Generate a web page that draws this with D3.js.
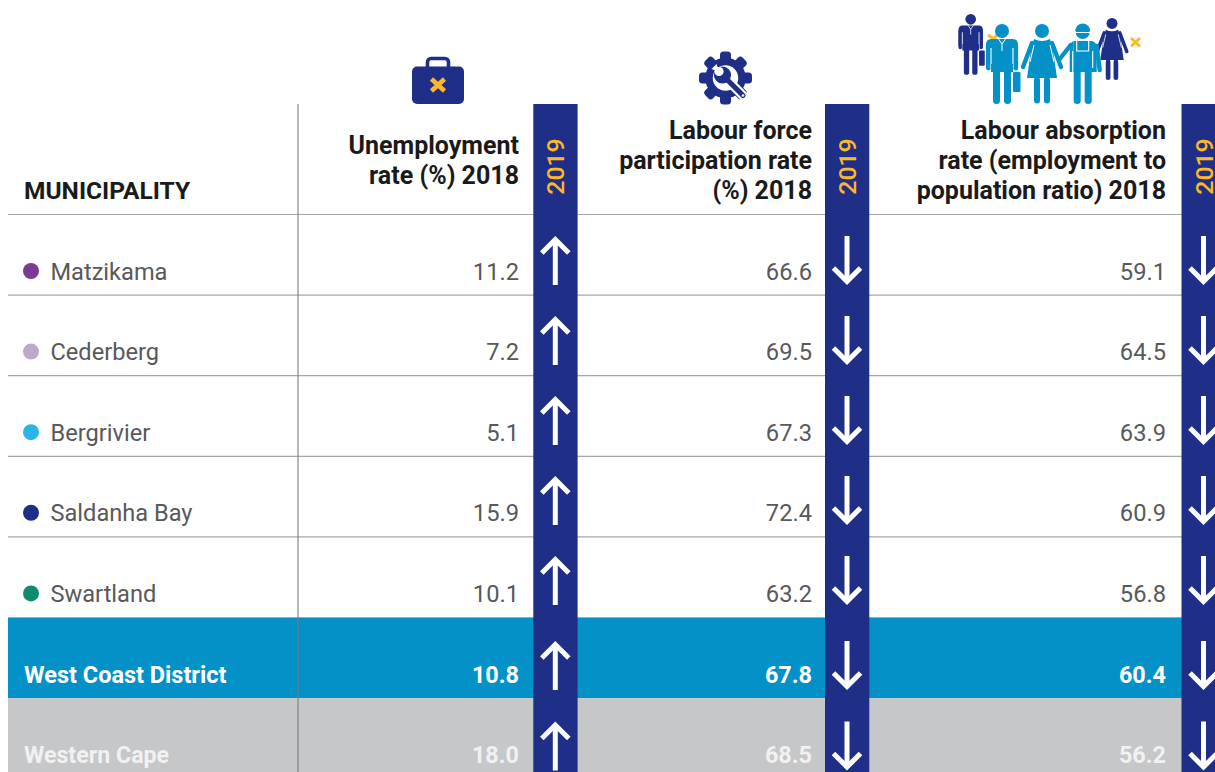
<!DOCTYPE html>
<html>
<head>
<meta charset="utf-8">
<script src="https://cdn.jsdelivr.net/npm/d3@7/dist/d3.min.js"></script>
<style>
html,body{margin:0;padding:0;background:#fff;overflow:hidden}
svg{display:block}
text{font-family:Roboto,sans-serif}
</style>
</head>
<body>
<div id="chart"></div>
<script>
// Labour market indicators by municipality
const municipalities = ["Matzikama","Cederberg","Bergrivier","Saldanha Bay","Swartland","West Coast District","Western Cape"];
const dotColours = ["#7b3b92","#bfa8c9","#2cb5e3","#1f2f87","#0f8a6d",null,null];
const unemployment = [11.2,7.2,5.1,15.9,10.1,10.8,18.0];
const participation = [66.6,69.5,67.3,72.4,63.2,67.8,68.5];
const absorption = [59.1,64.5,63.9,60.9,56.8,60.4,56.2];
const trendUnemployment = ["up","up","up","up","up","up","up"];
const trendParticipation = ["down","down","down","down","down","down","down"];
const trendAbsorption = ["down","down","down","down","down","down","down"];
const headUnemployment = ["Unemployment","rate (%) 2018"];
const headParticipation = ["Labour force","participation rate","(%) 2018"];
const headAbsorption = ["Labour absorption","rate (employment to","population ratio) 2018"];
const columnKeys = ["unemployment","participation","absorption"];
const bandYear = "2019";

const NAVY="#1f2f87", BLUE="#0391c8", GREY="#c6c7c9", GOLD="#fdb827", RULE="#a5a7aa";
const W=1215, H=772;

const columns = [
  {key:"unemployment", values:unemployment, trend:trendUnemployment, head:headUnemployment},
  {key:"participation", values:participation, trend:trendParticipation, head:headParticipation},
  {key:"absorption", values:absorption, trend:trendAbsorption, head:headAbsorption}
];

const svg = d3.select("#chart").append("svg").attr("width",W).attr("height",H);

const y = d3.scaleBand().domain(municipalities).range([214.5,214.5+7*80.6]);
const arrowY = d3.scaleOrdinal().domain(municipalities).range([260.5,340.5,420.5,500.5,580.5,665.5,746]);
const textRight = d3.scaleOrdinal().domain(columnKeys).range([519,812,1166]);
const barLeft = d3.scaleOrdinal().domain(columnKeys).range([533.3,825,1181.5]);
const barW = 44.3;

// Highlighted summary rows
const fills = {"West Coast District":BLUE,"Western Cape":GREY};
svg.append("g").selectAll("rect").data(municipalities.filter(m=>fills[m])).join("rect")
  .attr("x",8).attr("width",W-8).attr("y",d=>y(d)).attr("height",y.bandwidth()).attr("fill",d=>fills[d]);

// Row rules
svg.append("g").selectAll("line").data(municipalities.slice(0,5).map(m=>y(m)).concat(y(municipalities[4])+y.bandwidth()))
  .join("line").attr("x1",8).attr("x2",W).attr("y1",d=>d).attr("y2",d=>d)
  .attr("stroke",RULE).attr("stroke-width",1.2);
svg.append("line").attr("x1",298).attr("x2",298).attr("y1",104).attr("y2",H)
  .attr("stroke","#7b7d80").attr("stroke-width",1.1);

// Municipality column
svg.append("text").attr("x",24).attr("y",198.5).attr("font-size",24.5).attr("font-weight",700).attr("fill","#1a1a1a").text("MUNICIPALITY");
const nameG = svg.append("g");
nameG.selectAll("circle").data(municipalities.filter((m,i)=>dotColours[i])).join("circle")
  .attr("cx",31).attr("cy",d=>y(d)+56.5).attr("r",8).attr("fill",(d,i)=>dotColours[i]);
nameG.selectAll("text").data(municipalities).join("text")
  .attr("x",(d,i)=>dotColours[i]?50.5:24).attr("y",d=>y(d)+65)
  .attr("font-size",(d,i)=>dotColours[i]?23.6:(i===5?23.5:23.2))
  .attr("font-weight",(d,i)=>dotColours[i]?400:700)
  .attr("fill",(d,i)=>dotColours[i]?"#58595b":(i===5?"#fff":"#f1f1f1"))
  .text(d=>d);

// Arrow glyphs are drawn relative to their own centre, tip included
function arrow(sel,dir){
  const s = dir==="up"?-1:1;
  sel.append("path")
    .attr("d",d3.line()([[0,-24.5*s],[0,21*s]]))
    .attr("stroke","#fff").attr("stroke-width",5).attr("fill","none");
  sel.append("path")
    .attr("d",d3.line()([[-13.5,7.5*s],[0,21*s],[13.5,7.5*s]]))
    .attr("stroke","#fff").attr("stroke-width",5).attr("fill","none").attr("stroke-miterlimit",4);
}

columns.forEach(col=>{
  const right = textRight(col.key), left = barLeft(col.key);
  // Dark band with its year label
  svg.append("rect").attr("x",left).attr("y",104).attr("width",barW).attr("height",H-104).attr("fill",NAVY);
  svg.append("text")
    .attr("transform",`translate(${left+barW/2+9},166.5) rotate(-90)`)
    .attr("text-anchor","middle").attr("font-size",24.8).attr("font-weight",500).attr("fill",GOLD).text(bandYear);

  // Column heading, bottom aligned
  const baseY = col.head.length===3?138.7:153.7;
  svg.append("g").selectAll("text").data(col.head).join("text")
    .attr("x",right).attr("y",(d,i)=>baseY+i*30).attr("text-anchor","end")
    .attr("font-size",25).attr("font-weight",700).attr("fill","#1a1a1a").text(d=>d);

  // Values
  svg.append("g").selectAll("text").data(col.values).join("text")
    .attr("x",right).attr("y",(d,i)=>y(municipalities[i])+65).attr("text-anchor","end")
    .attr("font-size",(d,i)=>i>=5?23.4:23.7).attr("font-weight",(d,i)=>i>=5?700:400)
    .attr("fill",(d,i)=>i===5?"#fff":(i===6?"#f1f1f1":"#58595b"))
    .text(d=>d.toFixed(1));

  // Trend arrows
  col.trend.forEach((dir,i)=>{
    const g = svg.append("g").attr("transform",`translate(${left+22},${arrowY(municipalities[i])})`);
    arrow(g,dir);
  });
});

// Briefcase icon
const bag = svg.append("g").attr("transform","translate(438,0)");
bag.append("rect").attr("x",-26).attr("y",66.5).attr("width",52).attr("height",37.5).attr("rx",5).attr("fill",NAVY);
bag.append("rect").attr("x",-10.5).attr("y",58.5).attr("width",21).attr("height",12).attr("rx",3.5).attr("fill","none").attr("stroke",NAVY).attr("stroke-width",3.6);
bag.append("path").attr("d","M-6.5,79 L6.5,91 M6.5,79 L-6.5,91").attr("stroke",GOLD).attr("stroke-width",4.6).attr("fill","none");

// Gear with wrench icon
const gear = svg.append("g").attr("transform","translate(725.5,78)");
d3.range(8).forEach(i=>{
  gear.append("rect").attr("x",-5.5).attr("y",-26.5).attr("width",11).attr("height",12).attr("rx",3.5)
    .attr("fill",NAVY).attr("transform",`rotate(${i*45})`);
});
gear.append("circle").attr("r",16.5).attr("fill","#fff").attr("stroke",NAVY).attr("stroke-width",7.5);
gear.append("path").attr("d","M-1,-1 L18,18").attr("stroke","#fff").attr("stroke-width",9.5).attr("stroke-linecap","round");
gear.append("path").attr("d","M-1,-1 L17.5,17.5").attr("stroke",NAVY).attr("stroke-width",5.2).attr("stroke-linecap","round");
gear.append("circle").attr("cx",-3).attr("cy",-3).attr("r",8.6).attr("fill",NAVY);
gear.append("path").attr("d","M-6,-6 L-9,-14 L-14,-9 Z").attr("fill","#fff");
gear.append("circle").attr("cx",-6.5).attr("cy",-6.5).attr("r",4.6).attr("fill","#fff");
gear.append("circle").attr("cx",17.5).attr("cy",17.5).attr("r",1.3).attr("fill","#fff");

// Figures: origin is the top of the head, units are pixels at unit scale
function figure(x,top,k,colour,draw){
  const g = svg.append("g").attr("transform",`translate(${x},${top}) scale(${k})`);
  draw(g,colour);
}
function limb(g,c,a,b,w){
  g.append("path").attr("d",d3.line()([a,b])).attr("stroke",c).attr("stroke-width",w).attr("stroke-linecap","round").attr("fill","none");
}
function man(g,c){
  g.append("circle").attr("cy",7).attr("r",7).attr("fill",c);
  g.append("path").attr("d","M-11,15 H11 Q16,15 16,21 V42 H-16 V21 Q-16,15 -11,15 Z").attr("fill",c);
  limb(g,c,[-13.7,22],[-13.7,44],4.8); limb(g,c,[13.7,22],[13.7,44],4.8);
  g.append("path").attr("d","M-11,24 V44 M11,24 V44").attr("stroke","#fff").attr("stroke-width",1.1);
  g.append("rect").attr("x",-11).attr("y",40).attr("width",22).attr("height",8).attr("fill",c);
  limb(g,c,[-5.5,44],[-5.5,76.5],7); limb(g,c,[5.5,44],[5.5,76.5],7);
  g.append("path").attr("d","M-3.5,15 L0,20 L3.5,15 M0,20 V27").attr("stroke","#fff").attr("stroke-width",1).attr("fill","none");
  g.append("rect").attr("x",11).attr("y",48).attr("width",7.5).attr("height",20).attr("rx",1.2).attr("fill",c);
}
function woman(g,c){
  g.append("circle").attr("cy",7).attr("r",7).attr("fill",c);
  limb(g,c,[-10,19],[-19,43],4.4); limb(g,c,[10,19],[19,43],4.4);
  g.append("path").attr("d","M-8,15 Q0,19 8,15 L11,26 L15,54 H-15 L-11,26 Z").attr("fill",c);
  g.append("path").attr("d","M-8,21 L-12,38 M8,21 L12,38").attr("stroke","#fff").attr("stroke-width",1);
  limb(g,c,[-5,56],[-5,76.5],6); limb(g,c,[5,56],[5,76.5],6);
}
function worker(g,c){
  g.append("circle").attr("cy",8).attr("r",7).attr("fill",c);
  g.append("path").attr("d","M-7.5,7 A7.5,7.5 0 0 1 7.5,7 Z").attr("fill",c);
  g.append("path").attr("d","M-8,8.5 H8").attr("stroke","#fff").attr("stroke-width",1);
  g.append("path").attr("d","M-9,17 H9 Q14,18 14,24 V48 H-9 Z").attr("fill",c);
  g.append("path").attr("d","M-9,17 Q-13,18 -13,26 V48 H-9 Z").attr("fill",c);
  limb(g,c,[-12,21],[-23,35],4.4); limb(g,c,[14,22],[17,46],4.4);
  g.append("path").attr("d","M-6,17 V27 H6 V17 M-10,27 V48 M10,27 V44").attr("stroke","#fff").attr("stroke-width",1.1).attr("fill","none");
  limb(g,c,[-5.5,46],[-5.5,76.5],7); limb(g,c,[5.5,46],[5.5,76.5],7);
}
svg.append("path").attr("d","M988,35 L997,41 M997,35 L992,41").attr("stroke",GOLD).attr("stroke-width",3).attr("fill","none");
figure(970.7,14,0.76,NAVY,man);
figure(1112,18,0.78,NAVY,woman);
figure(1082.7,24,1,BLUE,worker);
figure(1042,24,1,BLUE,woman);
figure(1002,24,1,BLUE,man);
svg.append("path").attr("d","M1131,38 L1140,46.5 M1140,38 L1131,46.5").attr("stroke",GOLD).attr("stroke-width",2.8).attr("fill","none");
</script>
</body>
</html>
